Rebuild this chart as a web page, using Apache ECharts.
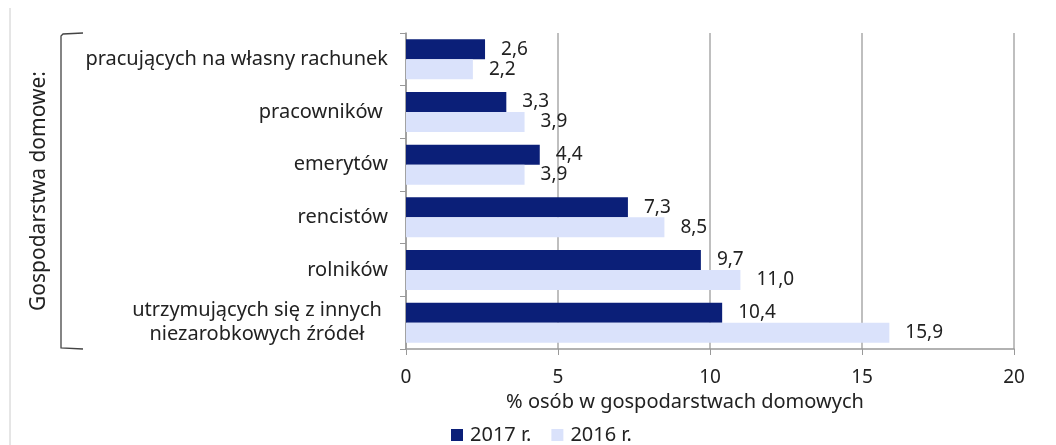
<!DOCTYPE html>
<html>
<head>
<meta charset="utf-8">
<script src="https://cdn.jsdelivr.net/npm/echarts@6/dist/echarts.min.js"></script>
<style>
  html, body { margin: 0; padding: 0; background: #fff; }
  #chart { width: 1056px; height: 445px; }
</style>
</head>
<body>
<div id="chart"></div>
<script>
// kategorie gospodarstw (od gory)
const categories = [
  'pracujących na własny rachunek',
  'pracowników ',
  'emerytów',
  'rencistów',
  'rolników',
  'utrzymujących się z innych\nniezarobkowych źródeł'
];
const values2017 = [2.6, 3.3, 4.4, 7.3, 9.7, 10.4];
const values2016 = [2.2, 3.9, 3.9, 8.5, 11.0, 15.9];
const xTicks = [0, 5, 10, 15, 20];

const DARK = '#0b1f78';
const LIGHT = '#dae2fb';
const FONT = 'Noto Sans';
const TXT = '#222';

// wartosc z przecinkiem
function fmt(v) {
  return v.toFixed(1).replace('.', ',');
}

const chart = echarts.init(document.getElementById('chart'));

const option = {
  animation: false,
  textStyle: { fontFamily: FONT },
  grid: { left: 406, right: 42, top: 33, bottom: 96 },
  legend: {
    top: 420,
    left: 446,
    itemWidth: 12,
    itemHeight: 12,
    itemGap: 20,
    icon: 'rect',
    textStyle: { fontSize: 20, color: TXT, padding: [0, 0, 0, 2] },
    data: ['2017 r.', '2016 r.']
  },
  xAxis: {
    type: 'value',
    min: xTicks[0],
    max: xTicks[xTicks.length - 1],
    interval: 5,
    name: '% osób w gospodarstwach domowych',
    nameLocation: 'middle',
    nameGap: 35,
    nameTextStyle: { fontSize: 20, color: TXT, padding: [0, 50, 0, 0] },
    axisLine: { show: true, lineStyle: { color: '#999', width: 1.5 } },
    axisTick: { show: true, length: 6, lineStyle: { color: '#999' } },
    axisLabel: { fontSize: 19, color: TXT, margin: 19 },
    splitLine: { show: true, lineStyle: { color: '#aaa', width: 1.5 } }
  },
  yAxis: {
    type: 'category',
    inverse: true,
    data: categories,
    name: 'Gospodarstwa domowe:',
    nameLocation: 'middle',
    nameGap: 356,
    nameRotate: 90,
    nameTextStyle: { fontSize: 21, color: TXT },
    axisLine: { show: true, lineStyle: { color: '#999', width: 1.5 } },
    axisTick: { show: true, length: 6, lineStyle: { color: '#999' } },
    axisLabel: {
      fontSize: 20,
      color: TXT,
      margin: 18,
      formatter: function (v) {
        if (v.indexOf('\n') < 0) return v;
        return v.split('\n').map(function (s) { return '{c|' + s + '}'; }).join('\n');
      },
      rich: {
        c: { width: 262, align: 'center', fontSize: 20, color: TXT, lineHeight: 24 }
      }
    }
  },
  series: [
    {
      name: '2017 r.',
      type: 'bar',
      data: values2017,
      barWidth: 20,
      barGap: '0%',
      itemStyle: { color: DARK },
      label: {
        show: true,
        position: 'right',
        distance: 16,
        fontSize: 19,
        color: TXT,
        formatter: function (p) { return fmt(p.value); }
      }
    },
    {
      name: '2016 r.',
      type: 'bar',
      data: values2016,
      barWidth: 20,
      itemStyle: { color: LIGHT },
      label: {
        show: true,
        position: 'right',
        distance: 16,
        fontSize: 19,
        color: TXT,
        formatter: function (p) { return fmt(p.value); }
      }
    }
  ],
  graphic: [
    // ramka po lewej
    {
      type: 'line',
      shape: { x1: 10, y1: 8, x2: 10, y2: 445 },
      style: { stroke: '#ccc', lineWidth: 1 }
    },
    // nawias przy kategoriach
    {
      type: 'polyline',
      shape: { points: [[83, 33], [63, 34], [61, 36], [61, 348], [83, 349]] },
      style: { stroke: '#444', lineWidth: 1.3, fill: null }
    }
  ]
};

chart.setOption(option);
</script>
</body>
</html>
